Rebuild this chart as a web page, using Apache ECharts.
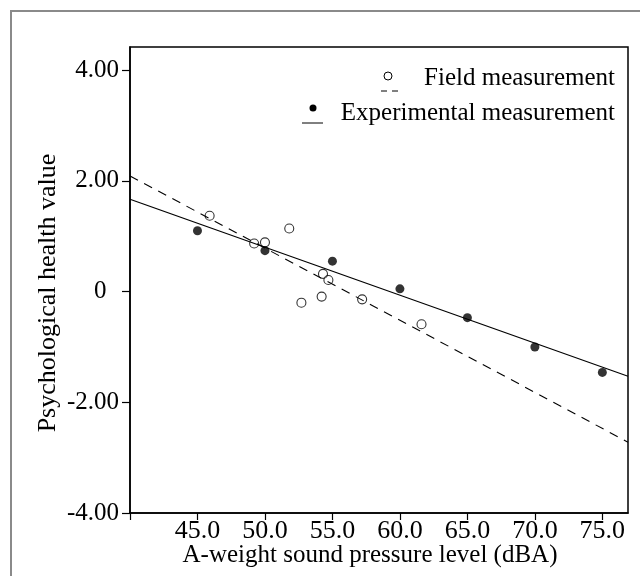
<!DOCTYPE html>
<html><head><meta charset="utf-8">
<script src="https://cdn.jsdelivr.net/npm/echarts@6/dist/echarts.min.js"></script>
<style>html,body{margin:0;padding:0;background:#fff}#c{width:640px;height:576px}</style>
</head><body><div id="c"></div>
<script>
// Field measurement (open circles)
const fieldX = [45.9, 51.8, 49.2, 50.0, 54.3, 54.7, 52.7, 54.2, 57.2, 61.6];
const fieldY = [1.37, 1.14, 0.87, 0.89, 0.32, 0.21, -0.20, -0.09, -0.14, -0.59];
// Experimental measurement (filled circles)
const expX = [45, 50, 55, 60, 65, 70, 75];
const expY = [1.10, 0.74, 0.55, 0.05, -0.47, -1.00, -1.46];
// Fit line endpoints
const fitX = [40, 76.9];
const fieldFitY = [2.09, -2.72];
const expFitY = [1.67, -1.53];
// Ticks
const xTicks = [40, 45, 50, 55, 60, 65, 70, 75];
const xTickLabels = ['', '45.0', '50.0', '55.0', '60.0', '65.0', '70.0', '75.0'];
const yTicks = [-4, -2, 0, 2, 4];
const yTickLabels = ['-4.00', '-2.00', '0  ', '2.00', '4.00'];

const FONT = '"Liberation Serif", "Times New Roman", serif';
const zip = (a, b) => a.map((v, i) => [v, b[i]]);

const chart = echarts.init(document.getElementById('c'), null, {renderer: 'canvas'});
chart.setOption({
  animation: false,
  backgroundColor: '#fff',
  grid: {left: 130, right: 12, top: 47, bottom: 63, show: true, borderColor: '#000', borderWidth: 1.5, outerBoundsMode: 'none', containLabel: false},
  xAxis: {
    type: 'value', min: 40, max: 76.9,
    name: 'A-weight sound pressure level (dBA)', nameLocation: 'middle', nameGap: 30, nameMoveOverlap: false,
    nameTextStyle: {fontFamily: FONT, fontSize: 25, color: '#000', padding: [0, 18, 0, 0]},
    axisLine: {show: true, onZero: false, lineStyle: {color: '#000', width: 1.5}},
    axisTick: {show: true, length: 7, lineStyle: {color: '#000', width: 1.2}, customValues: xTicks},
    axisLabel: {fontFamily: FONT, fontSize: 26, color: '#000', margin: 5, customValues: xTicks,
      formatter: v => { const i = xTicks.indexOf(v); return i >= 0 ? xTickLabels[i] : ''; }},
    splitLine: {show: false}
  },
  yAxis: {
    type: 'value', min: -4, max: 4.42,
    name: 'Psychological health value', nameLocation: 'middle', nameGap: 69, nameRotate: 90, nameMoveOverlap: false,
    nameTextStyle: {fontFamily: FONT, fontSize: 26, color: '#000', padding: [0, 26, 0, 0]},
    axisLine: {show: true, onZero: false, lineStyle: {color: '#000', width: 1.5}},
    axisTick: {show: true, length: 8, lineStyle: {color: '#000', width: 1.2}, customValues: yTicks},
    axisLabel: {fontFamily: FONT, fontSize: 25, color: '#000', margin: 11, customValues: yTicks,
      formatter: v => { const i = yTicks.indexOf(v); return i >= 0 ? yTickLabels[i] : ''; }},
    splitLine: {show: false}
  },
  series: [
    {name: 'Field fit', type: 'line', data: zip(fitX, fieldFitY), symbol: 'none', silent: true, z: 1,
      lineStyle: {color: '#000', width: 1.1, type: [9, 7]}},
    {name: 'Experimental fit', type: 'line', data: zip(fitX, expFitY), symbol: 'none', silent: true, z: 1,
      lineStyle: {color: '#000', width: 1.2}},
    {name: 'Field measurement', type: 'scatter', data: zip(fieldX, fieldY), symbol: 'circle', symbolSize: 9, z: 3,
      itemStyle: {color: 'rgba(255,255,255,0)', borderColor: '#000', borderWidth: 1.1}},
    {name: 'Experimental measurement', type: 'scatter', data: zip(expX, expY), symbol: 'circle', symbolSize: 9, z: 3,
      itemStyle: {color: '#000'}}
  ],
  graphic: [
    {type: 'rect', shape: {x: 11, y: 11, width: 660, height: 600}, style: {fill: 'none', stroke: '#8a8a8a', lineWidth: 2}, silent: true, z: -1},
    {type: 'circle', shape: {cx: 388, cy: 76, r: 4}, style: {fill: 'none', stroke: '#000', lineWidth: 1}},
    {type: 'line', shape: {x1: 381, y1: 91, x2: 398, y2: 91}, style: {stroke: '#000', lineWidth: 1, lineDash: [6, 5]}},
    {type: 'text', x: 615, y: 78, style: {text: 'Field measurement', font: '25px "Liberation Serif", serif', fill: '#000', align: 'right', verticalAlign: 'middle'}},
    {type: 'circle', shape: {cx: 313, cy: 108, r: 3.5}, style: {fill: '#000'}},
    {type: 'line', shape: {x1: 302, y1: 123, x2: 323, y2: 123}, style: {stroke: '#000', lineWidth: 1}},
    {type: 'text', x: 615, y: 113, style: {text: 'Experimental measurement', font: '25px "Liberation Serif", serif', fill: '#000', align: 'right', verticalAlign: 'middle'}}
  ]
});
</script>
</body></html>
